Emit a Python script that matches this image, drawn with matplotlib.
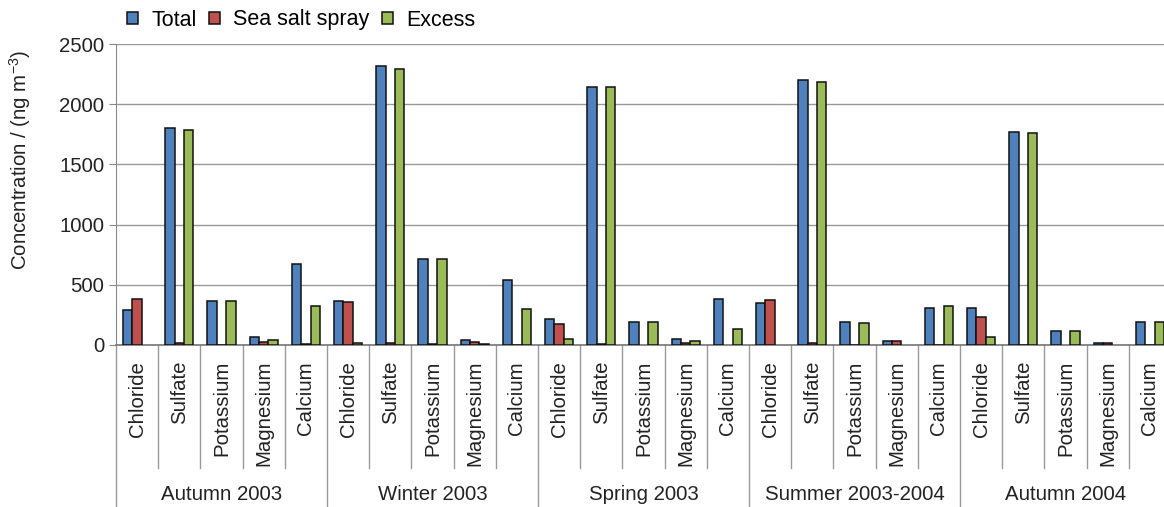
import numpy as np
import matplotlib
matplotlib.use('Agg')
import matplotlib.pyplot as plt
from matplotlib.patches import Patch

plt.rcParams['font.family'] = ['Liberation Sans', 'DejaVu Sans']
plt.rcParams['mathtext.fontset'] = 'custom'
plt.rcParams['mathtext.rm'] = 'Liberation Sans'
plt.rcParams['mathtext.it'] = 'Liberation Sans:italic'

seasons = ['Autumn 2003', 'Winter 2003', 'Spring 2003', 'Summer 2003-2004', 'Autumn 2004']
ions = ['Chloride', 'Sulfate', 'Potassium', 'Magnesium', 'Calcium']

# ng m-3, one row per season, columns follow `ions`
nan = np.nan
total = [
    [290, 1800, 365, 70, 670],
    [365, 2315, 715, 38, 540],
    [215, 2140, 190, 48, 385],
    [345, 2205, 190, 30, 310],
    [310, 1770, 115, 16, 190],
]
sea_salt = [
    [378, 20, 4, 28, 5],
    [355, 18, 5, 28, 4],
    [172, 5, nan, 18, nan],
    [375, 18, 3, 30, 3],
    [235, 4, nan, 16, 3],
]
excess = [
    [nan, 1785, 365, 40, 322],
    [15, 2295, 715, 5, 300],
    [48, 2140, 190, 30, 135],
    [nan, 2185, 182, nan, 322],
    [70, 1760, 115, nan, 190],
]

series = [('Total', total, '#4f81bd'),
          ('Sea salt spray', sea_salt, '#c0504d'),
          ('Excess', excess, '#9bbb59')]

FS = 14.7
W, H = 1164, 507
fig = plt.figure(figsize=(W / 100, H / 100), dpi=100)
x0, x1, y0, y1 = 116, 1171, 345, 44
ax = fig.add_axes([x0 / W, (H - y0) / H, (x1 - x0) / W, (y0 - y1) / H])

n_slots = len(seasons) * len(ions)
centers = np.arange(n_slots) + 0.5
bw = 0.224
for k, (name, vals, color) in enumerate(series):
    flat = np.array(vals, dtype=float).ravel()
    ax.bar(centers + (k - 1) * bw, flat, width=bw, color=color,
           edgecolor='#111111', linewidth=1.1, zorder=3)

ax.set_xlim(0, n_slots)
ax.set_ylim(0, 2500)
ax.set_yticks(np.arange(0, 2501, 500))
ax.set_xticks([])
ax.grid(axis='y', color='#999999', linewidth=1, zorder=0)
ax.tick_params(axis='y', labelsize=FS, length=5, color='#888888', colors='#222222')
for side in ['top', 'right']:
    ax.spines[side].set_visible(False)
ax.spines['left'].set_color('#888888')
ax.spines['bottom'].set_color('#777777')
ax.spines['bottom'].set_linewidth(1.2)

# category axis: ion names, separators and season labels
tr = ax.get_xaxis_transform()
px = 1.0 / (y0 - y1)
sep_low = -(468 - y0) * px
bottom = -(H - y0) * px
ax.plot([0, 0], [0, bottom], transform=tr, color='#999999', lw=1, clip_on=False)
for i in range(1, n_slots + 1):
    y_end = bottom if i % len(ions) == 0 else sep_low
    ax.plot([i, i], [0, y_end], transform=tr, color='#999999', lw=1, clip_on=False)
for i, c in enumerate(centers):
    ax.text(c, -(361 - y0) * px, ions[i % len(ions)], transform=tr, rotation=90,
            ha='center', va='top', fontsize=FS, color='#222222')
for j, s in enumerate(seasons):
    ax.text(j * len(ions) + len(ions) / 2, -(494 - y0) * px, s, transform=tr,
            ha='center', va='center', fontsize=FS, color='#222222')

fig.text(20 / W, (H - 160) / H, 'Concentration / (ng m$^{-3}$)', rotation=90,
         ha='center', va='center', fontsize=FS, color='#222222')

handles = [Patch(facecolor=c, edgecolor='#111111', linewidth=1.1, label=n)
           for n, _, c in series]
fig.legend(handles=handles, loc='center left', bbox_to_anchor=(127 / W, (H - 20) / H),
           ncol=3, frameon=False, fontsize=15.5, handlelength=0.5, handleheight=0.5,
           handletextpad=0.62, columnspacing=0.58, borderpad=0, borderaxespad=0)

fig.savefig('out.png', dpi=100)
